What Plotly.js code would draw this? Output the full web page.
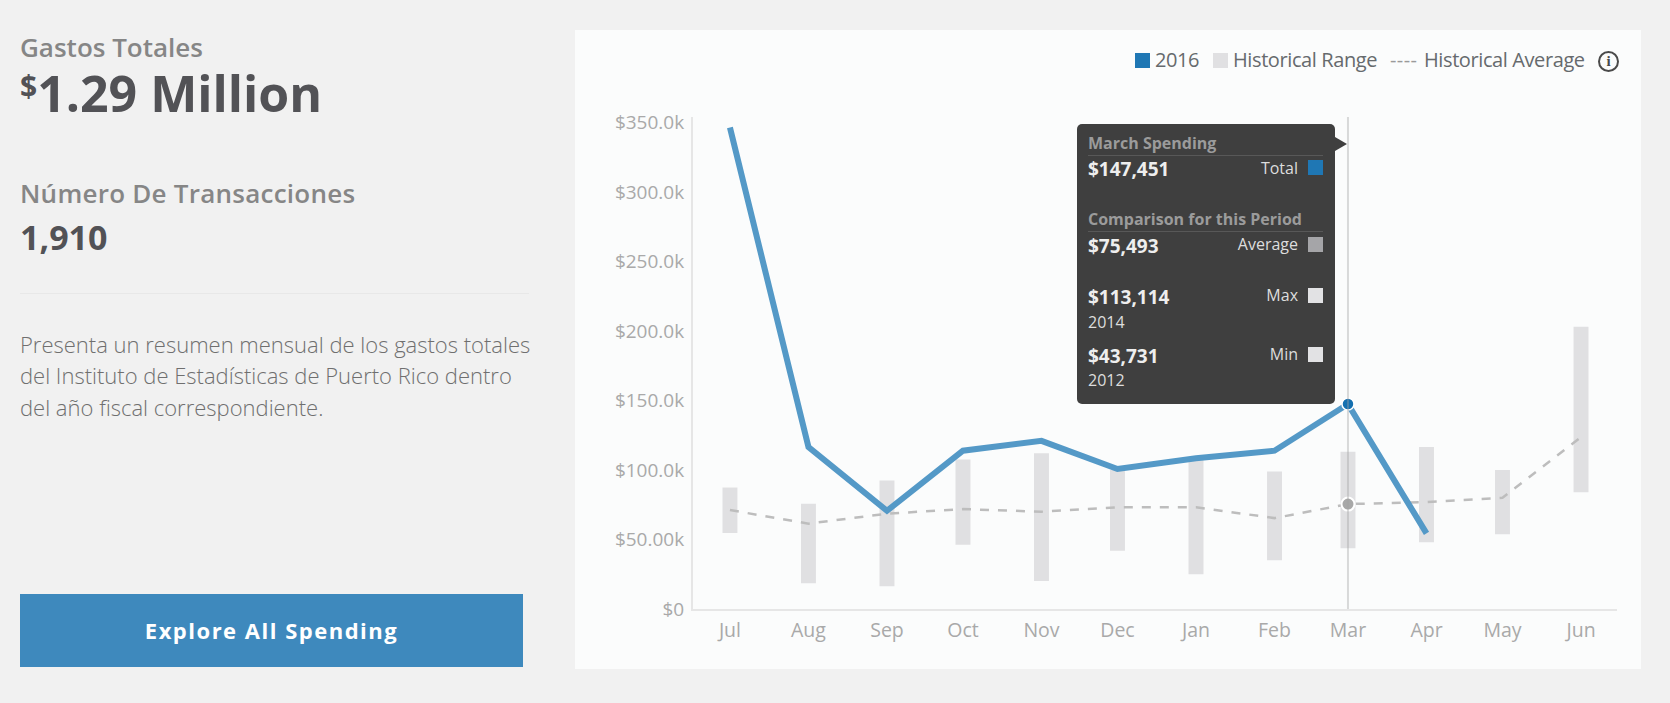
<!DOCTYPE html>
<html lang="es">
<head>
<meta charset="utf-8">
<script src="https://cdn.plot.ly/plotly-3.0.1.min.js"></script>
<style>
html,body{margin:0;padding:0;width:1670px;height:703px;overflow:hidden;background:#f1f1f1;font-family:"Open Sans",sans-serif;}
.abs{position:absolute;white-space:nowrap;line-height:1;}
#panel{position:absolute;left:575px;top:30px;width:1066px;height:639px;background:#fbfcfc;}
#chart{position:absolute;left:0;top:0;width:1670px;height:703px;}
#tip{position:absolute;left:1077px;top:124px;width:258px;height:280px;background:#3f3f3f;border-radius:5px;}
#arrow{position:absolute;left:1335px;top:137px;width:0;height:0;border-top:7px solid transparent;border-bottom:7px solid transparent;border-left:12px solid #3f3f3f;}
.tx{position:absolute;white-space:nowrap;line-height:1;transform:translateY(-50%);}
.h{left:11px;font-weight:700;font-size:16px;color:#9b9b9b;}
.v{left:11px;font-weight:700;font-size:19px;color:#eeeeee;}
.l{right:37px;font-size:16px;color:#dddddd;}
.y{left:11px;font-size:16px;color:#dddddd;}
.sw{position:absolute;left:231px;width:15px;height:15px;}
.dv{position:absolute;left:11px;width:235px;height:1px;background:#585858;}
.lg{position:absolute;top:60px;transform:translateY(-50%);white-space:nowrap;line-height:1;font-size:20px;letter-spacing:-0.4px;color:#666a6d;}
.ls{position:absolute;top:53px;width:15px;height:15px;}
</style>
</head>
<body>
<div class="abs" style="left:20px;top:34px;font-size:26px;font-weight:600;color:#868686;">Gastos Totales</div>
<div class="abs" style="left:20px;top:68px;font-size:50px;font-weight:700;color:#525256;"><span style="font-size:30px;position:relative;top:-15px;">$</span>1.29 Million</div>
<div class="abs" style="left:20px;top:180px;font-size:26px;font-weight:600;letter-spacing:0.25px;color:#868686;">Número De Transacciones</div>
<div class="abs" style="left:20px;top:220px;font-size:34px;font-weight:700;color:#525256;">1,910</div>
<div style="position:absolute;left:20px;top:293px;width:509px;height:1px;background:#e8e8e8;"></div>
<div class="abs" style="left:20px;top:333px;font-size:22px;font-weight:300;color:#6f6f6f;">Presenta un resumen mensual de los gastos totales</div>
<div class="abs" style="left:20px;top:364px;font-size:22px;font-weight:300;color:#6f6f6f;">del Instituto de Estadísticas de Puerto Rico dentro</div>
<div class="abs" style="left:20px;top:396px;font-size:22px;font-weight:300;color:#6f6f6f;">del año fiscal correspondiente.</div>
<div style="position:absolute;left:20px;top:594px;width:503px;height:73px;background:#3e89bd;color:#fff;font-weight:700;font-size:22px;letter-spacing:1.5px;text-align:center;line-height:73px;">Explore All Spending</div>
<div id="panel"></div>
<div id="chart"></div>
<div class="ls" style="left:1135px;background:#1f77b4;"></div>
<div class="lg" style="left:1155px;">2016</div>
<div class="ls" style="left:1213px;background:#e0e0e2;"></div>
<div class="lg" style="left:1233px;">Historical Range</div>
<div class="lg" style="left:1390px;color:#9a9a9a;letter-spacing:0.4px;">----</div>
<div class="lg" style="left:1424px;">Historical Average</div>
<div style="position:absolute;left:1598px;top:51px;width:17px;height:17px;border:2px solid #4a4a4a;border-radius:50%;text-align:center;font-family:'Liberation Serif',serif;font-weight:700;font-size:15px;line-height:17px;color:#4a4a4a;">i</div>
<div id="arrow"></div>
<div id="tip">
  <div class="tx h" style="top:19px;">March Spending</div><div class="dv" style="top:31px;"></div>
  <div class="tx v" style="top:45px;">$147,451</div><div class="tx l" style="top:44px;">Total</div><div class="sw" style="top:36px;background:#1f77b4;"></div>
  <div class="tx h" style="top:95px;">Comparison for this Period</div><div class="dv" style="top:107px;"></div>
  <div class="tx v" style="top:122px;">$75,493</div><div class="tx l" style="top:120px;">Average</div><div class="sw" style="top:113px;background:#a5a5a8;"></div>
  <div class="tx v" style="top:173px;">$113,114</div><div class="tx l" style="top:171px;">Max</div><div class="sw" style="top:164px;background:#e2e2e4;"></div>
  <div class="tx y" style="top:198px;">2014</div>
  <div class="tx v" style="top:232px;">$43,731</div><div class="tx l" style="top:230px;">Min</div><div class="sw" style="top:223px;background:#e2e2e4;"></div>
  <div class="tx y" style="top:256px;">2012</div>
</div>
<script>
var months = ['Jul','Aug','Sep','Oct','Nov','Dec','Jan','Feb','Mar','Apr','May','Jun'];
var dates = ['2015-07-01','2015-08-01','2015-09-01','2015-10-01','2015-11-01','2015-12-01','2016-01-01','2016-02-01','2016-03-01','2016-04-01','2016-05-01','2016-06-01'];
var spending2016 = [346500,116500,70700,113900,121000,100700,108500,113900,147451,54400];
var historicalAverage = [71200,61400,68600,71900,70000,73200,73200,65400,75493,77000,80000,123600];
var historicalMax = [87400,75800,92500,107500,112000,100000,108000,99000,113114,116500,100000,203000];
var historicalMin = [54700,18600,16300,46300,20100,41900,25000,35000,43731,48000,53700,84000];
var yTickVals = [0,50000,100000,150000,200000,250000,300000,350000];
var yTickText = ['$0','$50.00k','$100.0k','$150.0k','$200.0k','$250.0k','$300.0k','$350.0k'];
var highlight = 8;
var DAY = 86400000;

var traces = [
  {type:'bar', x:dates, y:historicalMax.map(function(v,i){return v-historicalMin[i];}), base:historicalMin,
   width:dates.map(function(){return 5.9*DAY;}), marker:{color:'#e0e0e2',line:{width:0}}, hoverinfo:'skip', name:'Historical Range'},
  {type:'scatter', mode:'lines', x:dates, y:historicalAverage, line:{color:'#bdbdbd',width:2.5,dash:'9px,9px'}, hoverinfo:'skip', name:'Historical Average'},
  {type:'scatter', mode:'lines', x:dates.slice(0,spending2016.length), y:spending2016, line:{color:'#5499c7',width:6}, hoverinfo:'skip', name:'2016'},
  {type:'scatter', mode:'markers', x:[dates[highlight]], y:[historicalAverage[highlight]], marker:{size:13,color:'#a8a8a8',line:{color:'#ffffff',width:2}}, hoverinfo:'skip'},
  {type:'scatter', mode:'markers', x:[dates[highlight]], y:[spending2016[highlight]], marker:{size:12,color:'#1470b0',line:{color:'#ffffff',width:1.5}}, hoverinfo:'skip'}
];
var layout = {
  width:1670, height:703, showlegend:false, barmode:'overlay',
  paper_bgcolor:'rgba(0,0,0,0)', plot_bgcolor:'rgba(0,0,0,0)',
  margin:{l:693,r:53,t:117,b:94,pad:0},
  font:{family:'"Open Sans",sans-serif',size:16,color:'#a9a9a9'},
  xaxis:{type:'date',range:['2015-06-16 10:00','2016-06-15 05:00'],tickmode:'array',tickvals:dates,ticktext:months,
         showgrid:false,zeroline:false,showline:true,linecolor:'#e6e6e6',linewidth:2,ticks:'',ticklabelstandoff:3,
         tickfont:{size:19.5,color:'#a9a9a9'},fixedrange:true},
  yaxis:{range:[0,354000],tickmode:'array',tickvals:yTickVals,ticktext:yTickText,
         showgrid:false,zeroline:false,showline:true,linecolor:'#e6e6e6',linewidth:2,ticks:'',ticklabelstandoff:3,
         tickfont:{size:19,color:'#a9a9a9'},fixedrange:true},
  shapes:[{type:'line',xref:'x',yref:'paper',x0:dates[highlight],x1:dates[highlight],y0:0,y1:1,layer:'above',line:{color:'rgba(160,160,160,0.38)',width:2}}]
};
Plotly.newPlot('chart',traces,layout,{displayModeBar:false,staticPlot:true});
</script>
</body>
</html>
